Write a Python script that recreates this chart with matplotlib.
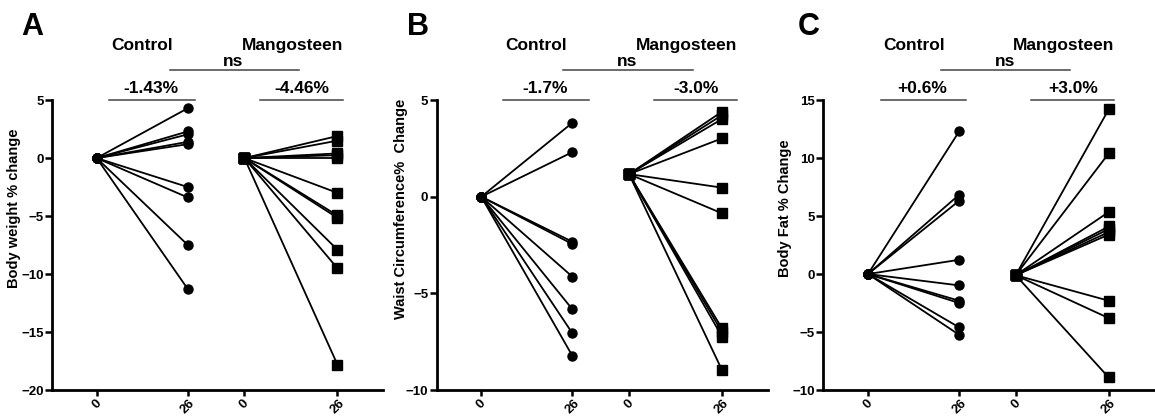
import matplotlib.pyplot as plt
from matplotlib.transforms import blended_transform_factory

plt.rcParams['font.family'] = ['Liberation Sans', 'DejaVu Sans']
plt.rcParams['font.weight'] = 'bold'

# week labels on the x axis
weeks = ['0', '26', '0', '26']

# panel A: body weight % change at week 26 (all start at 0)
bw_control_start = 0.0
bw_control = [4.3, 2.3, 2.05, 1.4, 1.2, -2.5, -3.4, -7.5, -11.3]
bw_mango_start = 0.0
bw_mango = [1.9, 1.5, 0.4, 0.25, 0.0, -3.0, -4.95, -5.15, -7.9, -9.5, -17.8]

# panel B: waist circumference % change
wc_control_start = 0.0
wc_control = [3.83, 2.31, -2.33, -2.45, -4.14, -5.83, -7.07, -8.24]
wc_mango_start = 1.17
wc_mango = [4.4, 4.22, 4.02, 3.02, 0.47, -0.86, -6.81, -7.0, -7.24, -8.97]

# panel C: body fat % change
bf_control_start = 0.0
bf_control = [12.3, 6.84, 6.32, 1.23, -0.98, -2.3, -2.5, -4.6, -5.24]
bf_mango_start = -0.1
bf_mango = [14.2, 10.4, 5.35, 4.1, 3.88, 3.62, 3.4, -2.3, -3.8, -8.92]

panels = [
    ('A', 'Body weight % change', bw_control_start, bw_control, bw_mango_start, bw_mango,
     ['-1.43%', '-4.46%'], (-20, 5), [5, 0, -5, -10, -15, -20]),
    ('B', 'Waist Circumference%  Change', wc_control_start, wc_control, wc_mango_start, wc_mango,
     ['-1.7%', '-3.0%'], (-10, 5), [5, 0, -5, -10]),
    ('C', 'Body Fat % Change', bf_control_start, bf_control, bf_mango_start, bf_mango,
     ['+0.6%', '+3.0%'], (-10, 15), [15, 10, 5, 0, -5, -10]),
]

# layout
xpos = [0, 1, 1.62, 2.64]
lefts = [0.045, 0.378, 0.7128]
shift = [0.0, 0.1, 0.0]
letter_x = [0.028, 0.362, 0.700]
ylab_x = [0.0185, 0.353, 0.686]

fig = plt.figure(figsize=(11.55, 4.17), dpi=100)

for i, (letter, ylabel, c0, c26, m0, m26, pct, ylim, yticks) in enumerate(panels):
    ax = fig.add_axes([lefts[i], 0.0647, 0.2866, 0.6953])

    for v in c26:
        ax.plot([xpos[0], xpos[1]], [c0, v], color='black', lw=1.3,
                marker='o', ms=6.5, clip_on=False, zorder=3)
    for v in m26:
        ax.plot([xpos[2], xpos[3]], [m0, v], color='black', lw=1.3,
                marker='s', ms=6.5, clip_on=False, zorder=3)

    ax.set_xlim(-0.49, 3.14)
    ax.set_ylim(*ylim)
    ax.set_yticks(yticks)
    ax.set_xticks(xpos)
    ax.set_xticklabels(weeks, rotation=45, ha='center', va='top', fontsize=9.5, fontweight='bold')
    ax.tick_params(axis='y', labelsize=9.5, width=1.8, length=5, pad=1)
    ax.tick_params(axis='x', width=1.8, length=4, pad=1)
    for lab in ax.get_yticklabels():
        lab.set_fontweight('bold')
    for s in ['top', 'right']:
        ax.spines[s].set_visible(False)
    for s in ['left', 'bottom']:
        ax.spines[s].set_linewidth(2)
    ax.set_ylabel(ylabel, fontsize=10.5, fontweight='bold')
    ax.yaxis.set_label_coords(ylab_x[i], 0.5, transform=fig.transFigure)

    tr = blended_transform_factory(ax.transData, fig.transFigure)
    d = shift[i]
    ax.text(0.5 + d, 0.892, 'Control', transform=tr, ha='center', va='center', fontsize=12.5, fontweight='bold')
    ax.text(2.15 + d, 0.892, 'Mangosteen', transform=tr, ha='center', va='center', fontsize=12.5, fontweight='bold')
    ax.text(1.5 + d, 0.853, 'ns', transform=tr, ha='center', va='center', fontsize=12.5, fontweight='bold')
    ax.plot([0.8 + d, 2.22 + d], [0.832, 0.832], transform=tr, color='#444444', lw=1.1, clip_on=False)
    ax.text(0.6 + d, 0.787, pct[0], transform=tr, ha='center', va='center', fontsize=12.5, fontweight='bold')
    ax.plot([0.14 + d, 1.08 + d], [0.760, 0.760], transform=tr, color='#444444', lw=1.1, clip_on=False)
    ax.text(2.25 + d, 0.787, pct[1], transform=tr, ha='center', va='center', fontsize=12.5, fontweight='bold')
    ax.plot([1.79 + d, 2.7 + d], [0.760, 0.760], transform=tr, color='#444444', lw=1.1, clip_on=False)

    fig.text(letter_x[i], 0.935, letter, ha='center', va='center', fontsize=22, fontweight='bold')

fig.savefig('out.png', dpi=100)
